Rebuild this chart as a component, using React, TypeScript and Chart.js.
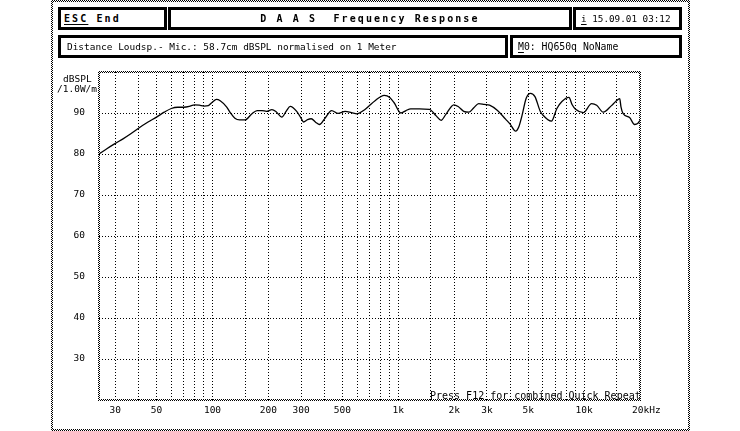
import React, { useEffect, useRef } from 'react';
import { Chart, registerables } from 'chart.js';

Chart.register(...registerables);

// Frequency (Hz) sample points of the measured curve
const freqs = [
  24.5, 27, 30, 33, 36, 40, 45, 50, 55, 60,
  65, 70, 75, 80, 85, 90, 95, 100, 105, 110,
  119, 125, 132, 140, 150, 162, 174, 185, 195, 209,
  220, 236, 250, 262, 284, 300, 309, 325, 340, 360,
  377, 400, 438, 474, 518, 560, 600, 650, 691, 750,
  840, 900, 950, 1033, 1100, 1167, 1300, 1470, 1600, 1700,
  1800, 1990, 2100, 2250, 2400, 2550, 2710, 2900, 3100, 3420,
  3780, 4000, 4280, 4450, 4640, 4880, 5150, 5440, 5800, 6000,
  6670, 7140, 7600, 8290, 8630, 9000, 9920, 10980, 11690, 12680,
  14040, 14800, 15560, 15800, 16200, 17580, 18700, 19500, 20000,
];

// Sound pressure level (dBSPL / 1.0W/m)
const spl = [
  80.0, 81.3, 82.6, 83.7, 84.8, 86.3, 87.8, 89.0, 90.2, 91.1,
  91.4, 91.4, 91.6, 92.0, 91.9, 91.7, 91.8, 92.7, 93.3, 93.0,
  91.5, 90.0, 88.7, 88.3, 88.3, 89.7, 90.6, 90.6, 90.4, 90.8,
  90.3, 89.0, 90.5, 91.6, 90.4, 88.7, 87.8, 88.4, 88.6, 87.7,
  87.2, 88.5, 90.6, 89.9, 90.4, 90.1, 89.8, 90.6, 91.6, 93.0,
  94.3, 93.8, 92.5, 90.0, 90.6, 91.0, 91.0, 90.9, 89.3, 88.2,
  89.6, 92.0, 91.6, 90.4, 90.2, 91.3, 92.3, 92.1, 91.9, 90.6,
  88.5, 87.3, 85.6, 86.6, 89.5, 93.6, 94.8, 94.0, 90.5, 89.5,
  88.0, 91.1, 92.8, 93.8, 92.0, 90.9, 90.1, 92.3, 91.9, 90.2,
  91.8, 92.8, 93.5, 91.5, 89.9, 88.9, 87.2, 87.5, 88.2,
];

// Vertical grid frequencies
const gridFreqs = [
  30, 40, 50, 60, 70, 80, 90, 100, 150, 200, 300, 400, 500, 600, 700, 800, 900,
  1000, 1500, 2000, 3000, 4000, 5000, 6000, 7000, 8000, 9000, 10000, 15000, 20000,
];
const xTickValues = [30, 50, 100, 200, 300, 500, 1000, 2000, 3000, 5000, 10000];
const xTickLabels = ['30', '50', '100', '200', '300', '500', '1k', '2k', '3k', '5k', '10k'];
const xLastLabel = '20kHz';

const yTicks = [20, 30, 40, 50, 60, 70, 80, 90, 100];
const yMin = 20;
const yMax = 100;
const xMin = 24.5;
const xMax = 20000;

const MONO = '"DejaVu Sans Mono", monospace';

function makeChecker(ctx: CanvasRenderingContext2D) {
  const c = document.createElement('canvas');
  c.width = 2;
  c.height = 2;
  const p = c.getContext('2d')!;
  p.fillStyle = '#000';
  p.fillRect(0, 0, 1, 1);
  p.fillRect(1, 1, 1, 1);
  return ctx.createPattern(c, 'repeat')!;
}

const decorPlugin = {
  id: 'decor',
  beforeDraw(chart: any) {
    const ctx = chart.ctx as CanvasRenderingContext2D;
    ctx.save();
    ctx.fillStyle = '#fff';
    ctx.fillRect(0, 0, chart.width, chart.height);
    const pat = makeChecker(ctx);
    ctx.fillStyle = pat;
    // outer frame
    ctx.fillRect(51, 0, 2, 431);
    ctx.fillRect(51, 0, 639, 2);
    ctx.fillRect(688, 0, 2, 431);
    ctx.fillRect(51, 429, 639, 2);
    ctx.restore();
  },
  afterDraw(chart: any) {
    const ctx = chart.ctx as CanvasRenderingContext2D;
    const ca = chart.chartArea;
    ctx.save();
    const pat = makeChecker(ctx);
    ctx.fillStyle = pat;
    ctx.fillRect(ca.left - 1, ca.top - 1, 2, ca.bottom - ca.top + 2);
    ctx.fillRect(ca.right - 1, ca.top - 1, 2, ca.bottom - ca.top + 2);
    ctx.fillRect(ca.left - 1, ca.top - 1, ca.right - ca.left + 2, 2);
    ctx.fillRect(ca.left - 1, ca.bottom - 1, ca.right - ca.left + 2, 2);

    ctx.fillStyle = '#000';
    ctx.textBaseline = 'alphabetic';
    ctx.textAlign = 'left';
    ctx.font = `10px ${MONO}`;
    ctx.fillText('Press F12 for combined Quick Repeat', 430, 399);

    ctx.font = `9.5px ${MONO}`;
    ctx.fillText('dBSPL', 63, 82);
    ctx.fillText('/1.0W/m', 57, 92);

    const xs = chart.scales.x;
    const px = xs.getPixelForValue(20000);
    ctx.fillText(xLastLabel, px - 8, 413);
    ctx.restore();
  },
};

export default function App() {
  const ref = useRef<HTMLCanvasElement>(null);

  useEffect(() => {
    if (!ref.current) return;
    const data = freqs.map((f, i) => ({ x: f, y: spl[i] }));
    const chart = new Chart(ref.current, {
      type: 'line',
      data: {
        datasets: [
          {
            data,
            borderColor: '#000',
            borderWidth: 1.3,
            pointRadius: 0,
            cubicInterpolationMode: 'monotone',
            fill: false,
          },
        ],
      },
      options: {
        animation: false,
        responsive: false,
        events: [],
        layout: { padding: { left: 0, top: 72, right: 100, bottom: 0 } },
        plugins: { legend: { display: false }, tooltip: { enabled: false } },
        scales: {
          x: {
            type: 'logarithmic',
            min: xMin,
            max: xMax,
            afterBuildTicks: (s: any) => {
              s.ticks = gridFreqs.map((v) => ({ value: v }));
            },
            afterFit: (s: any) => {
              s.height = 31;
            },
            grid: {
              drawTicks: false,
              color: (c: any) => (c.tick && c.tick.value === 20000 ? 'rgba(0,0,0,0)' : '#000'),
              lineWidth: 1,
            },
            border: { display: false, dash: [1, 2] },
            ticks: {
              autoSkip: false,
              maxRotation: 0,
              minRotation: 0,
              padding: 5,
              color: '#000',
              font: { family: MONO, size: 9.5 },
              callback: (v: any) => {
                const i = xTickValues.indexOf(Number(v));
                return i >= 0 ? xTickLabels[i] : '';
              },
            },
          },
          y: {
            min: yMin,
            max: yMax,
            afterBuildTicks: (s: any) => {
              s.ticks = yTicks.map((v) => ({ value: v }));
            },
            afterFit: (s: any) => {
              s.width = 99;
            },
            grid: {
              drawTicks: false,
              color: (c: any) =>
                c.tick && (c.tick.value === yMin || c.tick.value === yMax) ? 'rgba(0,0,0,0)' : '#000',
              lineWidth: 1,
            },
            border: { display: false, dash: [1, 2] },
            ticks: {
              padding: 14,
              color: '#000',
              font: { family: MONO, size: 9.5 },
              callback: (v: any) => (Number(v) === yMin || Number(v) === yMax ? '' : String(v)),
            },
          },
        },
      },
      plugins: [decorPlugin],
    } as any);
    return () => chart.destroy();
  }, []);

  const box: React.CSSProperties = {
    position: 'absolute',
    boxSizing: 'border-box',
    border: '3px solid #000',
    height: 23,
    display: 'flex',
    alignItems: 'center',
    whiteSpace: 'pre',
    fontFamily: MONO,
    color: '#000',
    background: '#fff',
    lineHeight: '1',
  };
  const bold: React.CSSProperties = { fontWeight: 'bold', fontSize: 10, letterSpacing: '2.1px' };
  const reg = (size: number): React.CSSProperties => ({ fontSize: size });
  const u: React.CSSProperties = { textDecoration: 'underline', textUnderlineOffset: '2px' };

  return (
    <div style={{ position: 'absolute', left: 0, top: 0, width: 740, height: 431, background: '#fff' }}>
      <canvas ref={ref} width={740} height={431} style={{ position: 'absolute', left: 0, top: 0 }} />
      <div style={{ ...box, left: 58, top: 7, width: 109, paddingLeft: 3, ...bold }}>
        <span style={u}>ESC</span> End
      </div>
      <div style={{ ...box, left: 168, top: 7, width: 404, justifyContent: 'center', ...bold }}>
        D A A S  Frequency Response
      </div>
      <div style={{ ...box, left: 573, top: 7, width: 109, paddingLeft: 5, ...reg(9.3) }}>
        <span style={u}>i</span> 15.09.01 03:12
      </div>
      <div style={{ ...box, left: 58, top: 35, width: 450, paddingLeft: 6, ...reg(9.45) }}>
        Distance Loudsp.- Mic.: 58.7cm dBSPL normalised on 1 Meter
      </div>
      <div style={{ ...box, left: 510, top: 35, width: 172, paddingLeft: 5, ...reg(9.8) }}>
        <span style={u}>M</span>0: HQ650q NoName
      </div>
    </div>
  );
}
